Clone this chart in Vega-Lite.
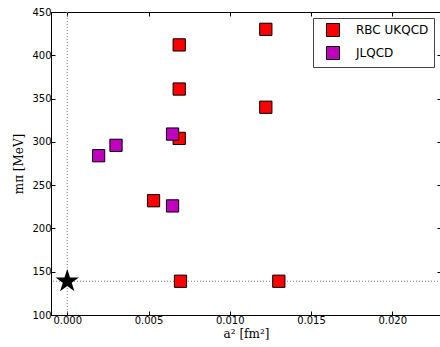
{
  "$schema": "https://vega.github.io/schema/vega-lite/v6.json",
  "width": 390,
  "height": 303,
  "autosize": "none",
  "padding": {"left": 51, "top": 12, "right": 0, "bottom": 32},
  "background": "white",
  "config": {
    "view": {"stroke": "black", "strokeWidth": 1},
    "axis": {
      "grid": false,
      "domainColor": "black",
      "tickColor": "black",
      "tickSize": -4,
      "labelFont": "DejaVu Sans",
      "labelFontSize": 10,
      "labelColor": "black",
      "titleFont": "DejaVu Serif",
      "titleFontSize": 12,
      "titleFontWeight": "normal",
      "titleColor": "black"
    }
  },
  "datasets": {
    "pts": [
      {"a2": 0.01222, "mpi": 430, "group": "RBC UKQCD"},
      {"a2": 0.00689, "mpi": 412, "group": "RBC UKQCD"},
      {"a2": 0.00689, "mpi": 361, "group": "RBC UKQCD"},
      {"a2": 0.01222, "mpi": 340, "group": "RBC UKQCD"},
      {"a2": 0.00689, "mpi": 304, "group": "RBC UKQCD"},
      {"a2": 0.00531, "mpi": 232, "group": "RBC UKQCD"},
      {"a2": 0.00697, "mpi": 139, "group": "RBC UKQCD"},
      {"a2": 0.01302, "mpi": 139, "group": "RBC UKQCD"},
      {"a2": 0.00193, "mpi": 284, "group": "JLQCD"},
      {"a2": 0.00300, "mpi": 296, "group": "JLQCD"},
      {"a2": 0.00648, "mpi": 309, "group": "JLQCD"},
      {"a2": 0.00648, "mpi": 226, "group": "JLQCD"}
    ],
    "phys": [{"a2": 0, "mpi": 139}]
  },
  "resolve": {"axis": {"x": "independent", "y": "independent"}},
  "layer": [
    {
      "data": {"name": "phys"},
      "mark": {"type": "rule", "color": "#808080", "strokeDash": [1, 2], "strokeWidth": 1},
      "encoding": {"x": {"field": "a2", "type": "quantitative", "axis": null}}
    },
    {
      "data": {"name": "phys"},
      "mark": {"type": "rule", "color": "#808080", "strokeDash": [1, 2], "strokeWidth": 1},
      "encoding": {"y": {"field": "mpi", "type": "quantitative", "axis": null}}
    },
    {
      "data": {"name": "pts"},
      "mark": {"type": "point", "shape": "square", "filled": false, "opacity": 0},
      "encoding": {
        "x": {
          "field": "a2", "type": "quantitative",
          "axis": {"orient": "top", "title": null, "labels": false, "domain": false, "values": [0, 0.005, 0.01, 0.015, 0.02]}
        },
        "y": {
          "field": "mpi", "type": "quantitative",
          "axis": {"orient": "right", "title": null, "labels": false, "domain": false, "values": [100, 150, 200, 250, 300, 350, 400, 450]}
        }
      }
    },
    {
      "data": {"name": "pts"},
      "mark": {"type": "point", "shape": "square", "filled": true, "size": 150, "stroke": "black", "strokeWidth": 1, "opacity": 1},
      "encoding": {
        "x": {
          "field": "a2", "type": "quantitative",
          "scale": {"domain": [-0.001, 0.023], "nice": false, "zero": false},
          "axis": {"orient": "bottom", "title": "a² [fm²]", "values": [0, 0.005, 0.01, 0.015, 0.02], "format": ".3f", "labelPadding": 4, "titlePadding": 3}
        },
        "y": {
          "field": "mpi", "type": "quantitative",
          "scale": {"domain": [100, 450], "nice": false, "zero": false},
          "axis": {"orient": "left", "title": "mπ [MeV]", "values": [100, 150, 200, 250, 300, 350, 400, 450], "labelPadding": 4, "titlePadding": 6}
        },
        "fill": {
          "field": "group", "type": "nominal",
          "scale": {"domain": ["RBC UKQCD", "JLQCD"], "range": ["#ff0000", "#bf00bf"]},
          "legend": {
            "title": null,
            "orient": "none",
            "legendX": 262,
            "legendY": 6,
            "strokeColor": "#444444",
            "fillColor": "white",
            "padding": 5,
            "symbolOffset": 8,
            "symbolType": "square",
            "symbolSize": 169,
            "symbolStrokeColor": "black",
            "symbolStrokeWidth": 1,
            "labelFont": "DejaVu Sans",
            "labelFontSize": 12,
            "labelColor": "black",
            "labelOffset": 16,
            "rowPadding": 5
          }
        }
      }
    },
    {
      "data": {"name": "phys"},
      "mark": {"type": "point", "shape": "M0,-1L0.2245,-0.309L0.951,-0.309L0.3633,0.118L0.588,0.809L0,0.382L-0.588,0.809L-0.3633,0.118L-0.951,-0.309L-0.2245,-0.309Z", "filled": true, "size": 600, "color": "black", "opacity": 1},
      "encoding": {
        "x": {"field": "a2", "type": "quantitative", "axis": null},
        "y": {"field": "mpi", "type": "quantitative", "axis": null}
      }
    }
  ]
}
